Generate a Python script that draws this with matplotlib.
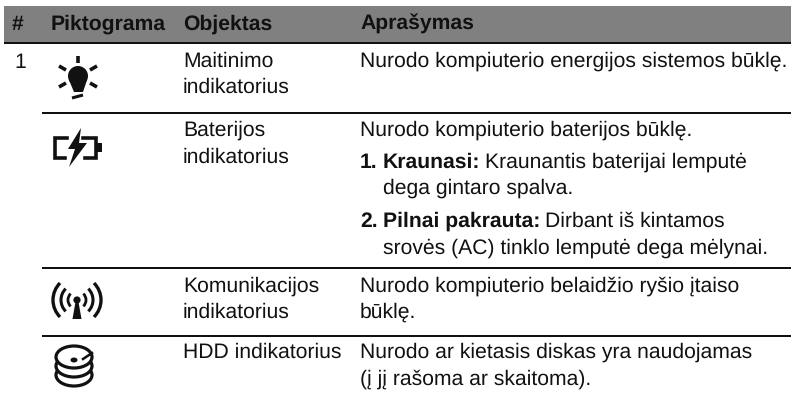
#!/usr/bin/env python3
"""Lithuanian indicator table, drawn in pixel coordinates."""
import matplotlib

matplotlib.use("Agg")
import matplotlib.pyplot as plt
from matplotlib.patches import Arc, Circle, Ellipse, Polygon, Rectangle

plt.rcParams["font.family"] = ["Liberation Sans", "DejaVu Sans"]
plt.rcParams["text.hinting"] = "no_hinting"

W, H = 791, 402
INK = "#111111"
FS = 15.25

headers = ["#", "Piktograma", "Objektas", "Aprašymas"]
header_x = [12, 51, 183, 360]
row_number = "1"
objects = [
    ["Maitinimo", "indikatorius"],
    ["Baterijos", "indikatorius"],
    ["Komunikacijos", "indikatorius"],
    ["HDD indikatorius"],
]
object_y = [[67, 93], [136, 163], [292, 318], [358]]
rule_y = [114, 269, 337]
desc_lines = [
    (360, 67, "Nurodo kompiuterio energijos sistemos būklę."),
    (360, 136, "Nurodo kompiuterio baterijos būklę."),
    (383, 194, "dega gintaro spalva."),
    (383, 254, "srovės (AC) tinklo lemputė dega mėlynai."),
    (360, 292, "Nurodo kompiuterio belaidžio ryšio įtaiso"),
    (360, 318, "būklę."),
    (360, 358, "Nurodo ar kietasis diskas yra naudojamas"),
    (360, 385, "(į jį rašoma ar skaitoma)."),
]
# number, baseline, bold lead-in, text that runs on after it
list_items = [
    ("1.", 168, "Kraunasi:", "Kraunantis baterijai lemputė"),
    ("2.", 227, "Pilnai pakrauta:", "Dirbant iš kintamos"),
]


def txt(ax, x, y, s, bold=False, color=INK):
    return ax.text(x, y, s, fontsize=FS, color=color, va="baseline", ha="left",
                   fontweight="bold" if bold else "normal")


def bulb_icon(ax):
    ax.add_patch(Circle((78, 77), 10, color=INK, lw=0))
    ax.add_patch(Polygon([(69, 81), (87, 81), (83, 93), (74, 93)], color=INK, lw=0))
    ax.plot([72, 83], [99, 96], color=INK, lw=2.2, solid_capstyle="butt")
    for a, b in [((78, 57), (78, 64)), ((59, 67), (66, 71)), ((97, 67), (90, 71)),
                 ((59, 88), (66, 84)), ((97, 88), (90, 84))]:
        ax.plot([a[0], b[0]], [a[1], b[1]], color=INK, lw=2.6, solid_capstyle="butt")


def battery_icon(ax):
    ax.plot([67, 55, 55, 65], [138.5, 138.5, 159, 159], color=INK, lw=2.6, solid_joinstyle="miter")
    ax.plot([83, 96, 96, 85], [138.5, 138.5, 159, 159], color=INK, lw=2.6, solid_joinstyle="miter")
    ax.add_patch(Rectangle((97, 144), 5, 9, color=INK, lw=0))
    ax.add_patch(Polygon([(81, 129), (68, 150), (75, 150), (69, 168), (87, 144), (79, 144)],
                         color=INK, lw=0))


def antenna_icon(ax):
    ax.add_patch(Circle((77, 301), 3.6, color=INK, lw=0))
    ax.add_patch(Polygon([(75.5, 303), (78.5, 303), (81.5, 320), (72.5, 320)], color=INK, lw=0))
    for r, w in [(9, 2.0), (16, 2.2), (24, 2.4)]:
        for mid in (0, 180):
            ax.add_patch(Arc((77, 301), 2 * r, 2 * r, theta1=mid - 45, theta2=mid + 45,
                             color=INK, lw=w))


def disk_icon(ax):
    for cy in (376, 367):
        ax.add_patch(Ellipse((74, cy), 36, 22, fc="white", ec=INK, lw=2.3))
    ax.add_patch(Ellipse((74, 358), 36, 22, fc="white", ec=INK, lw=2.3))
    ax.add_patch(Ellipse((74, 361), 7, 5, color=INK, lw=0))
    ax.plot([83, 92], [360, 354], color=INK, lw=1.8)


def main() -> None:
    fig = plt.figure(figsize=(W / 100, H / 100), dpi=100)
    ax = fig.add_axes([0, 0, 1, 1])
    ax.set_xlim(0, W)
    ax.set_ylim(H, 0)
    ax.axis("off")

    ax.add_patch(Rectangle((4, 7), W - 4, 37, color="#808080", lw=0))
    ax.add_patch(Rectangle((4, 43.3), W - 4, 2, color="#111111", lw=0))
    for y in rule_y:
        ax.add_patch(Rectangle((42, y - 1), W - 42, 2, color="#111111", lw=0))

    for x, s in zip(header_x, headers):
        txt(ax, x, 30, s, bold=True)
    txt(ax, 14, 68, row_number)

    for lines, ys in zip(objects, object_y):
        for s, y in zip(lines, ys):
            txt(ax, 183, y, s)
    for x, y, s in desc_lines:
        txt(ax, x, y, s)

    # regular text picks up where the bold lead-in ends
    renderer = fig.canvas.get_renderer()
    for num, y, lead, rest in list_items:
        txt(ax, 360, y, num, bold=True)
        lead_t = txt(ax, 383, y, lead, bold=True)
        end_x = lead_t.get_window_extent(renderer).x1
        txt(ax, end_x + 5, y, rest)

    bulb_icon(ax)
    battery_icon(ax)
    antenna_icon(ax)
    disk_icon(ax)

    fig.savefig("out.png", dpi=100, facecolor="white")
    plt.close(fig)


if __name__ == "__main__":
    main()
